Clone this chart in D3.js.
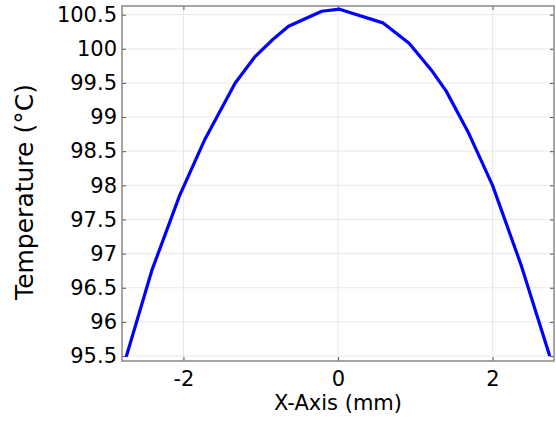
<!DOCTYPE html>
<html>
<head>
<meta charset="utf-8">
<script src="https://cdn.jsdelivr.net/npm/d3@7"></script>
<style>
  body { margin: 0; background: #fff; }
  text { font-family: "DejaVu Sans", sans-serif; fill: #000; }
</style>
</head>
<body>
<div id="chart"></div>
<script>
// line graph data
const xPos = [-2.74, -2.41, -2.05, -1.72, -1.33, -1.07, -0.84, -0.64, -0.21, 0.02,
  0.58, 0.92, 1.22, 1.40, 1.68, 2.0, 2.37, 2.74];
const temps = [95.49, 96.75, 97.85, 98.68, 99.50, 99.89, 100.14, 100.33, 100.55, 100.58,
  100.38, 100.08, 99.67, 99.38, 98.79, 98.0, 96.83, 95.5];
const xTicks = [-2, 0, 2];
const yTicks = [95.5, 96, 96.5, 97, 97.5, 98, 98.5, 99, 99.5, 100, 100.5];

const W = 556, H = 421;
const margin = {top: 6, right: 2, bottom: 60, left: 122};
const w = W - margin.left - margin.right;
const h = H - margin.top - margin.bottom;

const svg = d3.select('#chart').append('svg')
    .attr('width', W)
    .attr('height', H);

const g = svg.append('g')
    .attr('transform', `translate(${margin.left},${margin.top})`);

const x = d3.scaleLinear().domain([-2.795, 2.795]).range([0, w]);
const y = d3.scaleLinear().domain([95.427, 100.627]).range([h, 0]);

// grid
g.append('g').selectAll('line').data(xTicks).join('line')
    .attr('x1', d => x(d)).attr('x2', d => x(d))
    .attr('y1', 0).attr('y2', h)
    .attr('stroke', '#e8e8e8');
g.append('g').selectAll('line').data(yTicks).join('line')
    .attr('x1', 0).attr('x2', w)
    .attr('y1', d => y(d)).attr('y2', d => y(d))
    .attr('stroke', '#e8e8e8');

// axes with inward ticks on all sides
const styleAxis = sel => {
  sel.select('.domain').remove();
  sel.selectAll('.tick line').attr('stroke', '#555');
  sel.selectAll('.tick text').style('font-size', '21px').attr('fill', '#000');
};
g.append('g')
    .attr('transform', `translate(0,${h})`)
    .call(d3.axisBottom(x).tickValues(xTicks).tickSize(-4).tickPadding(10).tickFormat(d3.format('d')))
    .call(styleAxis)
    .selectAll('.tick text').text(d => d < 0 ? '-' + Math.abs(d) : d);
g.append('g')
    .call(d3.axisTop(x).tickValues(xTicks).tickSize(-4).tickFormat(''))
    .call(styleAxis);
g.append('g')
    .call(d3.axisLeft(y).tickValues(yTicks).tickSize(-4).tickPadding(5).tickFormat(d => d))
    .call(styleAxis);
g.append('g')
    .attr('transform', `translate(${w},0)`)
    .call(d3.axisRight(y).tickValues(yTicks).tickSize(-4).tickFormat(''))
    .call(styleAxis);

// frame
g.append('rect')
    .attr('width', w).attr('height', h)
    .attr('fill', 'none')
    .attr('stroke', '#888')
    .attr('stroke-width', 1.5);

// curve
const line = d3.line().x((d, i) => x(xPos[i])).y(d => y(d));
g.append('path')
    .datum(temps)
    .attr('d', line)
    .attr('fill', 'none')
    .attr('stroke', '#0000ff')
    .attr('stroke-width', 3.2)
    .attr('stroke-linejoin', 'round');

// labels
svg.append('text')
    .attr('x', margin.left + x(0))
    .attr('y', 410)
    .attr('text-anchor', 'middle')
    .style('font-size', '21px')
    .text('X-Axis (mm)');
svg.append('text')
    .attr('transform', 'translate(33,192) rotate(-90)')
    .attr('text-anchor', 'middle')
    .style('font-size', '25px')
    .text('Temperature (°C)');
</script>
</body>
</html>
